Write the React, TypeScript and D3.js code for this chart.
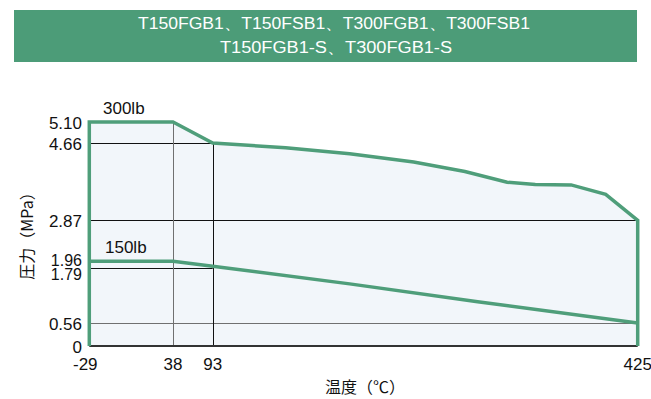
import React from "react";
import * as d3 from "d3";

const titleLines = ["T150FGB1、T150FSB1、T300FGB1、T300FSB1", "T150FGB1-S、T300FGB1-S"];
const xTicks = [-29, 38, 93, 425];
const yTicks = [0, 0.56, 1.79, 1.96, 2.87, 4.66, 5.1];
const yTickLabels = ["0", "0.56", "1.79", "1.96", "2.87", "4.66", "5.10"];
const temps300 = [-29, 38, 93, 150, 200, 250, 290, 323, 345, 373, 400, 425];
const press300 = [5.1, 5.1, 4.66, 4.55, 4.41, 4.22, 4.0, 3.75, 3.7, 3.69, 3.47, 2.87];
const temps150 = [-29, 38, 93, 200, 300, 425];
const press150 = [1.96, 1.96, 1.84, 1.44, 1.04, 0.56];
const seriesNames = ["300lb", "150lb"];
const xLabel = "温度（℃）";
const yLabel = "圧力（MPa）";

const GREEN = "#4f9e7a";
const FONT = "'Liberation Sans', Arial, Helvetica, sans-serif";
const CJK = "'Noto Sans CJK JP', 'Noto Sans', sans-serif";

export default function App() {
  const W = 651, H = 399;
  const x = d3.scaleLinear().domain(xTicks).range([89.3, 173, 212.7, 637.7]);
  const y = d3.scaleLinear().domain(yTicks).range([346, 323, 268.3, 261.3, 220.3, 143, 122]);
  const cx = (t: number) => Math.round(x(t)) + 0.5;
  const cy = (v: number) => Math.round(y(v)) + 0.5;

  const d300 = temps300.map((t, i) => [t, press300[i]] as [number, number]);
  const d150 = temps150.map((t, i) => [t, press150[i]] as [number, number]);

  const line = d3.line<[number, number]>().x(d => x(d[0])).y(d => y(d[1]));
  const area = d3.area<[number, number]>().x(d => x(d[0])).y0(y(0)).y1(d => y(d[1]));

  const xMin = xTicks[0], xMax = xTicks[xTicks.length - 1];
  const hGrid: { v: number; x2: number; color: string }[] = [
    { v: 4.66, x2: 93, color: "#111" },
    { v: 2.87, x2: xMax, color: "#111" },
    { v: 1.79, x2: 93, color: "#111" },
    { v: 0.56, x2: xMax, color: "#707070" },
  ];
  const vGrid: { t: number; top: number; color: string }[] = [
    { t: 38, top: 5.1, color: "#707070" },
    { t: 93, top: 4.66, color: "#111" },
  ];

  const p300 = [[xMin, 0] as [number, number], ...d300, [xMax, 0] as [number, number]];

  const labelShift = (v: number) => (v === 1.79 ? 11.5 : v === 1.96 ? 5 : 6.5);

  return (
    <svg width={W} height={H} style={{ position: "absolute", left: 0, top: 0, background: "#fff" }}>
      <rect x={14} y={10} width={623} height={52} fill="#4c9c78" />
      <text x={334} y={29} fill="#fff" fontFamily={FONT} fontSize={16} textAnchor="middle"
        textLength={392} lengthAdjust="spacingAndGlyphs">{titleLines[0]}</text>
      <text x={336} y={53} fill="#fff" fontFamily={FONT} fontSize={16} textAnchor="middle"
        textLength={232} lengthAdjust="spacingAndGlyphs">{titleLines[1]}</text>

      <path d={area(d300) || ""} fill="#f2f6fa" />

      {hGrid.map((g, i) => (
        <line key={"h" + i} x1={x(xMin)} x2={x(g.x2)} y1={cy(g.v)} y2={cy(g.v)} stroke={g.color} strokeWidth={1} />
      ))}
      {vGrid.map((g, i) => (
        <line key={"v" + i} x1={cx(g.t)} x2={cx(g.t)} y1={y(0)} y2={y(g.top)} stroke={g.color} strokeWidth={1} />
      ))}
      <line x1={x(xMin)} x2={x(xMax)} y1={y(0)} y2={y(0)} stroke="#333" strokeWidth={2} />

      <path d={line(p300) || ""} fill="none" stroke={GREEN} strokeWidth={3.5} strokeLinejoin="miter" />
      <path d={line(d150) || ""} fill="none" stroke={GREEN} strokeWidth={3.5} />

      {yTicks.map((v, i) => (
        <text key={"yt" + i} x={82} y={y(v) + labelShift(v)} textAnchor="end"
          fontFamily={FONT} fontSize={v === 1.79 || v === 1.96 ? 16 : 17} fill="#111">{yTickLabels[i]}</text>
      ))}
      {xTicks.map((t, i) => (
        <text key={"xt" + i} x={x(t) - (t === xMin ? 4 : 0)} y={370} textAnchor="middle"
          fontFamily={FONT} fontSize={17} fill="#111">{String(t)}</text>
      ))}

      <text x={103} y={114} fontFamily={FONT} fontSize={17} fill="#111">{seriesNames[0]}</text>
      <text x={105} y={253} fontFamily={FONT} fontSize={17} fill="#111">{seriesNames[1]}</text>

      <text x={365} y={393} textAnchor="middle" fontFamily={CJK} fontSize={16} fill="#111">{xLabel}</text>
      <text transform="translate(33,232) rotate(-90)" textAnchor="middle" fontFamily={CJK} fontSize={16} fill="#111">{yLabel}</text>
    </svg>
  );
}
